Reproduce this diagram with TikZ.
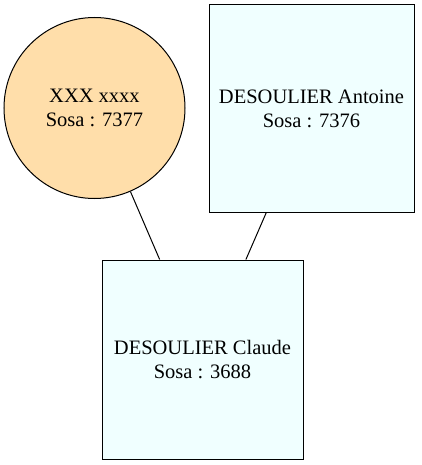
\documentclass[tikz,border=0pt]{standalone}
\usepackage{fontspec}
\setmainfont{Liberation Serif}
\newfontfamily\labelfont{Liberation Serif}
\begin{document}
\begin{tikzpicture}[x=1pt,y=-1pt,
  person/.style={draw=black, line width=1pt, inner sep=0pt, align=center,
    font=\labelfont\fontsize{20.5}{24}\selectfont},
  boxp/.style={person, rectangle, fill=azurecol},
  circp/.style={person, circle, fill=orangecol, minimum size=181pt},
  link/.style={draw=black, line width=1pt}]
\definecolor{azurecol}{HTML}{F0FFFF}
\definecolor{orangecol}{HTML}{FFDEAA}
\useasboundingbox (0,0) rectangle (421,465);
\node[circp] (xxx) at (94.5,108) {XXX xxxx\\Sosa : 7377};
\node[boxp, minimum width=205pt, minimum height=207pt] (antoine) at (311.5,108.5) {DESOULIER Antoine\\Sosa : 7376};
\node[boxp, minimum width=201pt, minimum height=199pt] (claude) at (202.5,359.5) {DESOULIER Claude\\Sosa : 3688};
\draw[link] (xxx) -- (claude);
\draw[link] (antoine) -- (claude);
\end{tikzpicture}
\end{document}
